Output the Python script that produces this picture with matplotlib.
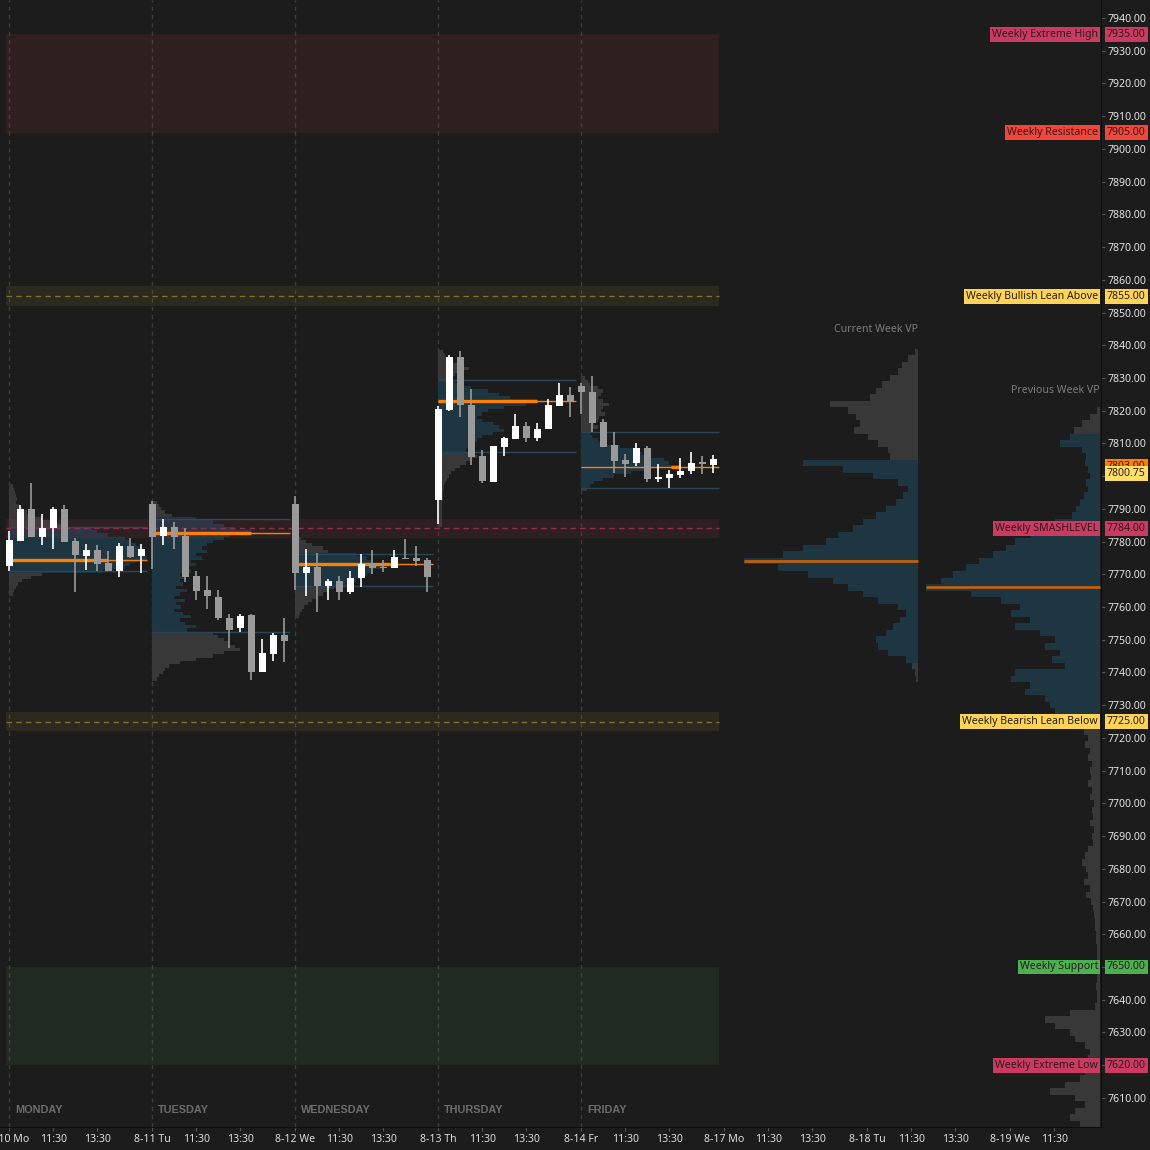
import numpy as np
import matplotlib
matplotlib.use("Agg")
import matplotlib.pyplot as plt
from matplotlib.patches import Rectangle
import matplotlib.transforms as mtransforms

plt.rcParams['font.family'] = ['Noto Sans', 'DejaVu Sans']

# 30 min bars, 13 per session (Mon 8-10 .. Fri 8-14)
opens = [7772.5, 7780.25, 7790.0, 7781.5, 7784.0, 7790.0, 7780.25, 7775.5, 7777.5, 7773.5, 7771.0, 7778.75, 7775.5,
         7791.5, 7781.75, 7784.5, 7781.75, 7769.5, 7765.25, 7763.0, 7756.75, 7753.5, 7757.5, 7740.25, 7745.75, 7751.5,
         7791.5, 7770.25, 7772.25, 7766.5, 7768.0, 7764.5, 7768.75, 7773.25, 7772.25, 7772.0, 7775.0, 7775.0, 7774.5,
         7792.75, 7820.25, 7836.5, 7821.75, 7806.0, 7798.25, 7809.0, 7811.25, 7815.25, 7811.5, 7814.25, 7821.5, 7824.75,
         7827.5, 7825.75, 7816.5, 7809.5, 7805.0, 7804.0, 7808.5, 7799.0, 7799.5, 7800.25, 7801.5, 7804.25, 7803.5]
highs = [7783.25, 7791.25, 7797.75, 7788.5, 7790.5, 7791.25, 7781.0, 7779.25, 7779.0, 7777.0, 7779.5, 7781.0, 7779.25,
         7792.5, 7787.0, 7786.0, 7784.0, 7771.0, 7769.5, 7765.25, 7758.0, 7758.0, 7757.75, 7750.25, 7752.0, 7756.5,
         7794.0, 7777.75, 7776.5, 7768.5, 7769.5, 7771.0, 7776.25, 7777.5, 7774.5, 7777.5, 7780.75, 7778.75, 7775.0,
         7821.5, 7837.0, 7838.25, 7826.5, 7808.0, 7809.25, 7812.0, 7819.0, 7816.5, 7816.25, 7823.5, 7828.5, 7827.25,
         7828.5, 7830.5, 7817.5, 7813.5, 7806.75, 7810.0, 7809.25, 7803.75, 7802.0, 7805.5, 7807.5, 7806.0, 7806.5]
lows = [7771.0, 7780.25, 7781.25, 7779.0, 7777.75, 7780.0, 7764.5, 7771.25, 7771.0, 7771.0, 7769.25, 7775.0, 7770.25,
        7771.75, 7779.0, 7777.75, 7767.5, 7762.25, 7759.25, 7756.0, 7747.5, 7752.5, 7737.75, 7740.25, 7743.5, 7743.25,
        7765.25, 7763.5, 7758.5, 7762.0, 7762.0, 7764.0, 7766.25, 7770.0, 7770.75, 7772.0, 7774.75, 7772.5, 7764.5,
        7785.5, 7819.75, 7818.0, 7803.5, 7797.75, 7798.25, 7806.0, 7811.25, 7810.5, 7810.75, 7814.25, 7821.5, 7818.0,
        7819.0, 7813.5, 7809.0, 7801.0, 7799.75, 7803.0, 7798.25, 7798.25, 7796.5, 7799.5, 7800.5, 7800.75, 7801.0]
closes = [7780.5, 7790.0, 7781.25, 7784.0, 7790.0, 7780.0, 7776.0, 7777.5, 7773.25, 7771.0, 7778.5, 7775.25, 7777.75,
          7781.5, 7784.5, 7781.5, 7769.25, 7765.0, 7763.25, 7756.5, 7753.0, 7757.25, 7740.0, 7746.0, 7751.5, 7749.5,
          7770.25, 7772.25, 7766.5, 7768.0, 7764.5, 7768.75, 7773.25, 7772.0, 7772.0, 7775.25, 7774.75, 7774.0, 7769.25,
          7820.5, 7836.5, 7821.75, 7805.75, 7798.5, 7809.25, 7811.5, 7815.25, 7811.5, 7814.5, 7821.75, 7824.75, 7822.75,
          7825.75, 7816.25, 7809.0, 7804.75, 7803.75, 7808.5, 7799.0, 7799.75, 7800.5, 7801.5, 7804.0, 7803.75, 7805.25]

day_names = ["MONDAY", "TUESDAY", "WEDNESDAY", "THURSDAY", "FRIDAY"]
BARS_PER_DAY = 13

xtick_pos = [0, 4, 8, 13, 17, 21, 26, 30, 34, 39, 43, 47, 52, 56, 60, 65, 69, 73, 78, 82, 86, 91, 95]
xtick_labels = ["8-10 Mo", "11:30", "13:30", "8-11 Tu", "11:30", "13:30", "8-12 We", "11:30", "13:30",
                "8-13 Th", "11:30", "13:30", "8-14 Fr", "11:30", "13:30", "8-17 Mo", "11:30", "13:30",
                "8-18 Tu", "11:30", "13:30", "8-19 We", "11:30"]

# session volume profiles, 1 point rows going down from the top price
day_prof_top = [7797, 7792, 7781, 7838, 7830]
day_profiles = [
    [0.3, 0.4, 0.5, 0.6, 0.7, 0.6, 0.9, 1.2, 1.6, 2.2, 3.0, 4.0, 5.0, 7.5, 8.0, 9.0, 10.5, 11.0, 11.5, 12.0,
     12.0, 12.3, 12.5, 11.5, 11.0, 10.5, 8.5, 3.0, 2.0, 1.2, 0.8, 0.6, 0.4, 0.3],
    [0.4, 0.6, 0.8, 1.2, 1.8, 4.0, 5.5, 6.5, 7.5, 9.0, 7.0, 6.5, 5.5, 5.0, 4.5, 5.0, 4.0, 4.5, 3.5, 4.0,
     3.0, 3.5, 2.5, 3.0, 2.5, 2.8, 2.2, 3.2, 2.5, 2.0, 3.0, 2.2, 2.6, 2.0, 2.8, 3.5, 2.5, 3.0, 4.0, 3.2,
     5.5, 6.0, 6.5, 7.0, 7.5, 8.0, 6.5, 5.5, 4.0, 2.5, 1.5, 1.2, 1.0, 0.6, 0.4],
    [0.5, 1.0, 1.5, 2.5, 3.0, 5.5, 6.5, 7.0, 9.0, 8.0, 7.0, 6.5, 6.0, 5.5, 5.0, 3.5, 3.0, 2.5, 2.0, 1.5,
     1.2, 0.8, 0.6, 0.4, 0.3],
    [0.4, 0.6, 0.8, 1.0, 2.0, 2.8, 2.0, 1.5, 1.2, 1.5, 2.0, 3.0, 4.5, 5.5, 6.5, 9.0, 8.0, 6.0, 4.5, 4.0,
     3.5, 4.0, 5.0, 5.5, 6.0, 5.0, 4.0, 3.5, 3.0, 3.2, 2.5, 3.0, 3.5, 3.0, 2.5, 2.0, 1.5, 1.2, 1.0, 0.8,
     0.6, 0.5, 0.5, 0.4, 0.4, 0.4, 0.3, 0.3, 0.3, 0.3, 0.3, 0.3, 0.3, 0.3],
    [0.3, 0.6, 0.8, 1.5, 2.0, 1.8, 1.5, 2.0, 2.5, 2.0, 1.8, 2.2, 1.6, 1.5, 1.2, 1.5, 1.0, 0.8, 1.0, 1.5,
     2.0, 3.5, 5.0, 5.5, 6.3, 7.5, 8.0, 9.0, 6.3, 4.5, 3.0, 2.0, 1.2, 0.8, 0.5],
]
day_vah = [7784.5, 7787.0, 7776.25, 7829.5, 7813.5]
day_val = [7771.0, 7752.5, 7766.5, 7807.5, 7796.5]
day_poc = [7774.5, 7782.75, 7773.0, 7823.0, 7802.75]

# weekly profiles, 2 point rows
cw_top = 7838
cw_vol = [3, 10, 16, 20, 28, 36, 42, 48, 88, 70, 62, 58, 64, 50, 40, 30, 28, 115, 75, 45,
          20, 10, 15, 22, 32, 42, 55, 65, 80, 92, 115, 135, 174, 140, 110, 85, 70, 55, 40, 20,
          12, 18, 25, 32, 42, 40, 30, 12, 6, 3, 2]
cw_vah, cw_val, cw_poc = 7805.0, 7743.0, 7774.0

pw_top = 7820
pw_vol = [3, 10, 18, 26, 30, 40, 18, 14, 15, 12,
          10, 14, 12, 16, 20, 24, 28, 45, 58, 70,
          85, 95, 108, 122, 135, 148, 160, 175, 130, 100,
          80, 90, 70, 85, 60, 45, 55, 40, 48, 35,
          85, 90, 70, 75, 55, 50, 45, 20, 14, 16,
          12, 15, 10, 12, 8, 10, 9, 12, 8, 10,
          6, 8, 7, 10, 6, 8, 7, 12, 15, 18,
          14, 12, 16, 10, 14, 9, 7, 6, 5, 5,
          4, 4, 3, 3, 3, 3, 3, 3, 4, 3,
          3, 5, 30, 55, 45, 30, 25, 15, 10, 12,
          8, 15, 20, 35, 50, 25, 15, 25, 30, 20]
pw_vah, pw_val, pw_poc = 7813.0, 7727.0, 7766.0

# weekly levels
zone_high = (7905, 7935)
zone_support = (7620, 7650)
lean_above = 7855
smash_level = 7784
lean_below = 7725

level_prices = [7935, 7905, 7855, 7784, 7725, 7650, 7620]
level_names = ["Weekly Extreme High", "Weekly Resistance", "Weekly Bullish Lean Above", "Weekly SMASHLEVEL",
               "Weekly Bearish Lean Below", "Weekly Support", "Weekly Extreme Low"]
level_colors = ['#cc3a62', '#f2463a', '#fdd457', '#cc3a62', '#fdd457', '#4caf50', '#cc3a62']
dev_poc_price = 7803.00
last_price = 7800.75

BG = '#1c1c1c'
UP = '#ffffff'
DOWN = '#9a9a9a'
TEAL = '#1e3542'
GREY = '#383838'
ORANGE = '#ff8000'
FS = 7.6

fig = plt.figure(figsize=(11.5, 11.5), dpi=100, facecolor=BG)
ax = fig.add_axes([0, 23 / 1150, 1101 / 1150, 1127 / 1150], facecolor=BG)
ax.set_xlim(-0.845, 99.25)
ax.set_ylim(7601.1, 7945.5)
xdata_yaxes = mtransforms.blended_transform_factory(ax.transData, ax.transAxes)
xfig_ydata = mtransforms.blended_transform_factory(fig.transFigure, ax.transData)

week_x0, week_x1 = -0.3, 64.5

# session profiles
for d in range(5):
    start = d * BARS_PER_DAY
    end = start + 12.5
    vols = np.array(day_profiles[d])
    prices = day_prof_top[d] - np.arange(len(vols))
    in_va = (prices >= day_val[d]) & (prices <= day_vah[d])
    ax.barh(prices, vols, left=start, height=1.0, color=np.where(in_va, TEAL, GREY), lw=0, zorder=1)
    ax.hlines([day_vah[d], day_val[d]], start, end, colors='#274657', lw=1, zorder=1.5)
    ax.hlines(day_poc[d], start, end, colors=ORANGE, lw=1, zorder=3)
    if d < 4:
        ax.hlines(day_poc[d], start, start + 9, colors=ORANGE, lw=2.4, zorder=3)
    else:
        ax.hlines(day_poc[d], start + 8.2, start + 9, colors=ORANGE, lw=2.4, zorder=3)
    ax.axvline(start, color='#3d3d3d', ls=(0, (3, 3)), lw=1, zorder=0.5)
    ax.text(start + 0.5, 0.0151, day_names[d], transform=xdata_yaxes, ha='left', va='center',
            color='#6c6c6c', fontsize=7.8, fontweight='bold', family=['Liberation Sans', 'DejaVu Sans'])

# weekly profiles, anchored on the right
VP_WIDTH = 15.8
for vol, top, vah, val, poc, right in [(cw_vol, cw_top, cw_vah, cw_val, cw_poc, 82.6),
                                       (pw_vol, pw_top, pw_vah, pw_val, pw_poc, 99.15)]:
    vol = np.array(vol, dtype=float)
    prices = top - 2 * np.arange(len(vol))
    w = vol / vol.max() * VP_WIDTH
    in_va = (prices >= val) & (prices <= vah)
    ax.barh(prices, -w, left=right, height=2.0, color=np.where(in_va, TEAL, GREY), lw=0, zorder=1)
    ax.hlines(poc, right - VP_WIDTH, right, colors='#c0600c', lw=2, zorder=3)

ax.text(82.6, 7844.7, "Current Week VP", ha='right', va='center', color='#7c7c7c', fontsize=FS)
ax.text(99.1, 7826.3, "Previous Week VP", ha='right', va='center', color='#7c7c7c', fontsize=FS)

# weekly zones and lean bands
ax.add_patch(Rectangle((week_x0, zone_high[0]), week_x1 - week_x0, zone_high[1] - zone_high[0],
                       facecolor='#c83c3c', alpha=0.12, lw=0, zorder=2))
ax.add_patch(Rectangle((week_x0, zone_support[0]), week_x1 - week_x0, zone_support[1] - zone_support[0],
                       facecolor='#4caf50', alpha=0.10, lw=0, zorder=2))
for lvl, fc, alpha, lc in [(lean_above, '#ffd54a', 0.07, '#7d7030'),
                           (smash_level, '#d23c64', 0.10, '#8e2f52'),
                           (lean_below, '#ffd54a', 0.07, '#7d7030')]:
    ax.add_patch(Rectangle((week_x0, lvl - 3), week_x1 - week_x0, 6, facecolor=fc, alpha=alpha, lw=0, zorder=2))
    ax.hlines(lvl, week_x0, week_x1, colors=lc, lw=1, linestyles=(0, (4, 3)), zorder=2.5)

# candles
o, h, l, c = map(np.array, (opens, highs, lows, closes))
x = np.arange(len(o))
col = np.where(c >= o, UP, DOWN)
ax.vlines(x, l, h, colors=col, lw=1.2, zorder=4)
ax.bar(x, np.maximum(np.abs(c - o), 0.3), bottom=np.minimum(o, c), width=0.6, color=col, lw=0, zorder=5)

# axes styling
for s in ['top', 'left']:
    ax.spines[s].set_visible(False)
for s in ['right', 'bottom']:
    ax.spines[s].set_color('#0e0e0e')
ax.yaxis.tick_right()
ax.set_yticks(np.arange(7610, 7941, 10))
ax.set_yticklabels([f"{v:.2f}" for v in np.arange(7610, 7941, 10)])
ax.set_xticks(xtick_pos)
ax.set_xticklabels(xtick_labels)
ax.tick_params(axis='y', colors='#555555', labelcolor='#e4e4e4', labelsize=FS, length=3, pad=2)
ax.tick_params(axis='x', colors='#555555', labelcolor='#dcdcdc', labelsize=FS, length=3, pad=2)

# level labels on the right
for p, name, fc in zip(level_prices, level_names, level_colors):
    ax.text(1098 / 1150, p, name, transform=xfig_ydata, ha='right', va='center', fontsize=FS,
            color='#2a1a1a', clip_on=False, zorder=10,
            bbox=dict(boxstyle='square,pad=0.18', fc=fc, ec='none'))
    ax.text(1107 / 1150, p, f"{p:.2f}", transform=xfig_ydata, ha='left', va='center', fontsize=FS,
            color='#2a1a1a', clip_on=False, zorder=10,
            bbox=dict(boxstyle='square,pad=0.18', fc=fc, ec='none'))
ax.text(1107 / 1150, dev_poc_price, f"{dev_poc_price:.2f}", transform=xfig_ydata, ha='left', va='center',
        fontsize=FS, color='#2a1a1a', clip_on=False, zorder=10,
        bbox=dict(boxstyle='square,pad=0.18', fc='#ff8000', ec='none'))
ax.text(1107 / 1150, last_price, f"{last_price:.2f}", transform=xfig_ydata, ha='left', va='center',
        fontsize=FS, color='#2a1a1a', clip_on=False, zorder=11,
        bbox=dict(boxstyle='square,pad=0.18', fc='#ffe066', ec='none'))

fig.savefig("out.png", dpi=100, facecolor=BG)
